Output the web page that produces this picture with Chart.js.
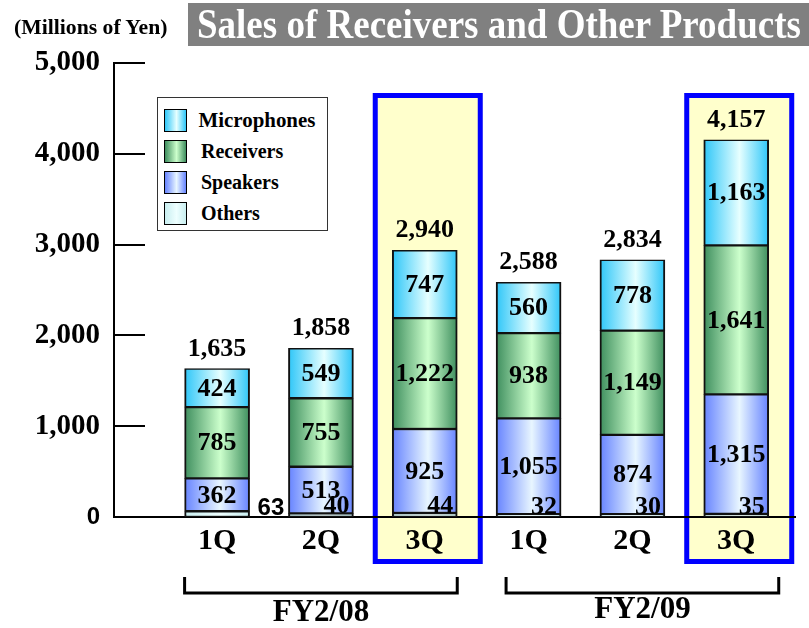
<!DOCTYPE html>
<html>
<head>
<meta charset="utf-8">
<title>Sales of Receivers and Other Products</title>
<script src="https://cdn.jsdelivr.net/npm/chart.js@4.4.0/dist/chart.umd.min.js"></script>
<style>
  body { margin: 0; background: #fff; }
  #wrap { position: relative; width: 809px; height: 628px; overflow: hidden; }
  #chart { position: absolute; left: 0; top: 0; }
  .serif { font-family: 'Liberation Serif', 'Times New Roman', serif; font-weight: bold; }
  #unit { position: absolute; left: 14px; top: 15px; font-size: 20px; line-height: 24px; white-space: nowrap; transform-origin: left center; color: #000; }
  #title { position: absolute; left: 188px; top: 3px; width: 621px; height: 43px; background: #808080; }
  #title span { position: absolute; left: 9px; top: -1px; font-size: 43px; line-height: 43px; color: #fff; white-space: nowrap; transform-origin: left center; }
  #legend { position: absolute; left: 157px; top: 97px; width: 169px; height: 132px; border: 1.5px solid #333; background: #fff; z-index: 2; }
  .item { position: absolute; left: 6px; height: 24px; display: flex; align-items: center; }
  .swatch { width: 21px; height: 21px; border: 1.5px solid #000; }
  .item span { margin-left: 14px; font-size: 20px; color: #000; }
</style>
</head>
<body>
<div id="wrap">
  <canvas id="chart" width="809" height="628"></canvas>
  <div id="unit" class="serif">(Millions of Yen)</div>
  <div id="title"><span class="serif">Sales of Receivers and Other Products</span></div>
  <div id="legend"></div>
</div>
<script>
// Data (millions of yen)
const quarters = ['1Q', '2Q', '3Q', '1Q', '2Q', '3Q'];
const fiscalYears = ['FY2/08', 'FY2/09'];
const highlighted = [2, 5];
const seriesNames = ['Others', 'Speakers', 'Receivers', 'Microphones'];
const others = [63, 40, 44, 32, 30, 35];
const speakers = [362, 513, 925, 1055, 874, 1315];
const receivers = [785, 755, 1222, 938, 1149, 1641];
const microphones = [424, 549, 747, 560, 778, 1163];
const totals = [1635, 1858, 2940, 2588, 2834, 4157];
const yTicks = [0, 1000, 2000, 3000, 4000, 5000];

const SERIF = "'Liberation Serif', 'Times New Roman', serif";
const SANS = "'Liberation Sans', Arial, sans-serif";
const NARROW = "'Liberation Sans Narrow', 'Arial Narrow', 'Liberation Sans', sans-serif";

// edge colour / centre colour of each gradient bar
const palette = {
  Others: ['#c8eef0', '#eeffff'],
  Speakers: ['#6683ff', '#e8f6ff'],
  Receivers: ['#3e8e5e', '#ccffcc'],
  Microphones: ['#2ec6f8', '#e6ffff']
};
const BAR_W = 65;

const fmt = v => v.toLocaleString('en-US');

function barGradient(stops) {
  return function(ctx) {
    const chart = ctx.chart;
    const x = chart.scales.x;
    if (!x || ctx.type !== 'data') return stops[0];
    const cx = x.getPixelForValue(ctx.dataIndex);
    if (!isFinite(cx)) return stops[0];
    const g = chart.ctx.createLinearGradient(cx - BAR_W / 2, 0, cx + BAR_W / 2, 0);
    g.addColorStop(0, stops[0]);
    g.addColorStop(0.55, stops[1]);
    g.addColorStop(1, stops[0]);
    return g;
  };
}

const seriesData = [others, speakers, receivers, microphones];
const datasets = seriesNames.map((name, k) => ({
  label: name,
  data: seriesData[k].map((v, i) => ({ x: i, y: v })),
  backgroundColor: barGradient(palette[name]),
  borderColor: '#111',
  borderWidth: { left: 2, right: 2, top: 1.5, bottom: 1.5 },
  borderSkipped: false,
  barThickness: BAR_W
}));

// yellow boxes with blue frame behind the current quarter
const highlightBoxes = {
  id: 'highlightBoxes',
  beforeDraw(chart) {
    const { ctx, chartArea, scales: { x } } = chart;
    ctx.save();
    highlighted.forEach(i => {
      const cx = x.getPixelForValue(i);
      const l = cx - 52, r = cx + 58;
      const t = chartArea.top + 30, b = chartArea.bottom + 47;
      ctx.fillStyle = '#ffffcc';
      ctx.fillRect(l, t, r - l, b - t);
      ctx.strokeStyle = '#0000ff';
      ctx.lineWidth = 5;
      ctx.strokeRect(l + 2.5, t + 2.5, r - l - 5, b - t - 5);
    });
    ctx.restore();
  }
};

// inward tick marks on the value axis
const innerTicks = {
  id: 'innerTicks',
  afterDraw(chart) {
    const { ctx, chartArea, scales: { y } } = chart;
    ctx.save();
    ctx.strokeStyle = '#000';
    ctx.lineWidth = 2;
    yTicks.slice(1).forEach(v => {
      const py = Math.round(y.getPixelForValue(v));
      ctx.beginPath();
      ctx.moveTo(chartArea.left, py);
      ctx.lineTo(chartArea.left + 31, py);
      ctx.stroke();
    });
    ctx.restore();
  }
};

// numbers in and above the bars
const valueLabels = {
  id: 'valueLabels',
  afterDatasetsDraw(chart) {
    const ctx = chart.ctx;
    ctx.save();
    ctx.fillStyle = '#000';
    chart.data.datasets.forEach((ds, di) => {
      const meta = chart.getDatasetMeta(di);
      meta.data.forEach((bar, i) => {
        const txt = fmt(ds.data[i].y);
        if (ds.label === 'Others') {
          if (i === 0) {
            ctx.font = 'bold 24px ' + NARROW;
            ctx.textAlign = 'left';
            ctx.textBaseline = 'alphabetic';
            ctx.fillText(txt, bar.x + BAR_W / 2 + 8, bar.base - 2);
          } else {
            ctx.font = 'bold 26px ' + SERIF;
            ctx.textAlign = 'right';
            ctx.textBaseline = 'alphabetic';
            ctx.fillText(txt, bar.x + BAR_W / 2 - 4, bar.y);
          }
        } else {
          ctx.font = 'bold 26px ' + SERIF;
          ctx.textAlign = 'center';
          ctx.textBaseline = 'middle';
          ctx.fillText(txt, bar.x, (bar.y + bar.base) / 2 + 1);
        }
      });
    });
    const topMeta = chart.getDatasetMeta(chart.data.datasets.length - 1);
    ctx.font = 'bold 26px ' + SERIF;
    ctx.textAlign = 'center';
    ctx.textBaseline = 'alphabetic';
    topMeta.data.forEach((bar, i) => {
      ctx.fillText(fmt(totals[i]), bar.x, bar.y - 13);
    });
    ctx.restore();
  }
};

// fiscal year brackets under the quarter labels
const yearBrackets = {
  id: 'yearBrackets',
  afterDraw(chart) {
    const { ctx, chartArea, scales: { x } } = chart;
    const perYear = quarters.length / fiscalYears.length;
    const yb = chartArea.bottom + 76;
    ctx.save();
    ctx.strokeStyle = '#000';
    ctx.lineWidth = 3;
    ctx.fillStyle = '#000';
    ctx.font = 'bold 31px ' + SERIF;
    ctx.textAlign = 'center';
    ctx.textBaseline = 'middle';
    fiscalYears.forEach((fy, g) => {
      // the later year's bracket sits a little to the right in the original
      const shift = g * 10;
      const l = x.getPixelForValue(g * perYear) - BAR_W / 2 + shift;
      const r = x.getPixelForValue(g * perYear + perYear - 1) + BAR_W / 2 + shift;
      ctx.beginPath();
      ctx.moveTo(l, yb - 16);
      ctx.lineTo(l, yb);
      ctx.lineTo(r, yb);
      ctx.lineTo(r, yb - 16);
      ctx.stroke();
      ctx.fillText(fy, (l + r) / 2, yb + 20 - g * 3);
    });
    ctx.restore();
  }
};

new Chart(document.getElementById('chart'), {
  type: 'bar',
  data: { datasets: datasets },
  plugins: [highlightBoxes, innerTicks, valueLabels, yearBrackets],
  options: {
    responsive: false,
    animation: false,
    devicePixelRatio: 1,
    layout: { padding: { top: 63, right: 14, left: 0, bottom: 0 } },
    plugins: {
      legend: { display: false },
      tooltip: { enabled: false }
    },
    scales: {
      x: {
        type: 'linear',
        stacked: true,
        offset: false,
        min: -0.993,
        max: 5.566,
        grid: { display: false, drawTicks: false },
        border: { display: true, color: '#000', width: 2 },
        afterBuildTicks: s => { s.ticks = quarters.map((q, i) => ({ value: i })); },
        afterFit: s => { s.height = 111; },
        ticks: {
          padding: 6,
          color: '#000',
          autoSkip: false,
          maxRotation: 0,
          font: { family: SERIF, size: 30, weight: 'bold' },
          callback: v => quarters[v]
        }
      },
      y: {
        stacked: true,
        min: 0,
        max: 5000,
        grid: { display: false, drawTicks: false },
        border: { display: true, color: '#000', width: 2 },
        afterBuildTicks: s => { s.ticks = yTicks.map(v => ({ value: v })); },
        afterFit: s => { s.width = 114; },
        ticks: {
          padding: 14,
          color: '#000',
          font: c => (c.tick && c.tick.value === 0)
            ? { family: SANS, size: 24, weight: 'bold' }
            : { family: SERIF, size: 29, weight: 'bold' },
          callback: v => fmt(v)
        }
      }
    }
  }
});

// legend, top series first
const legend = document.getElementById('legend');
seriesNames.slice().reverse().forEach((name, k) => {
  const c = palette[name];
  const row = document.createElement('div');
  row.className = 'item';
  row.style.top = (10 + k * 31) + 'px';
  row.innerHTML = '<div class="swatch" style="background:linear-gradient(to right,' +
    c[0] + ',' + c[1] + ' 55%,' + c[0] + ')"></div><span class="serif">' + name + '</span>';
  legend.appendChild(row);
});

// squeeze header texts to the widths they take in the original
function fitWidth(el, w) {
  el.style.transform = 'scaleX(' + (w / el.offsetWidth) + ')';
}
fitWidth(document.querySelector('#title span'), 604);
fitWidth(document.getElementById('unit'), 153);
fitWidth(document.querySelector('#legend .item:first-child span'), 117);
</script>
</body>
</html>
